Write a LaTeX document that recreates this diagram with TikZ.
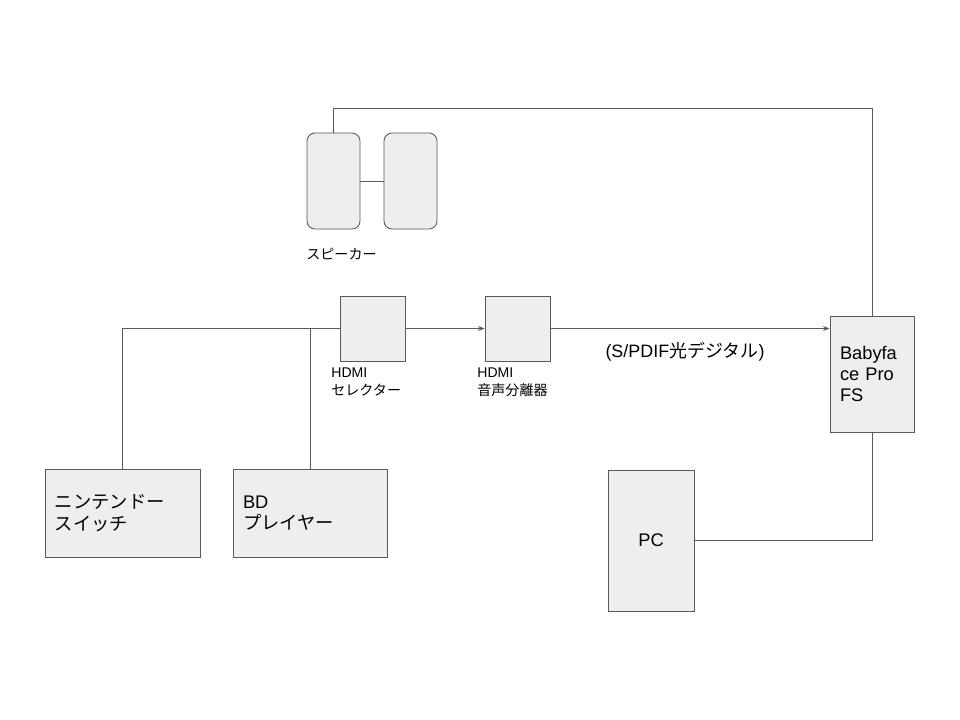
\documentclass[tikz,border=0pt]{standalone}
\usepackage{fontspec}
\setmainfont{Liberation Sans}
\newfontfamily\jp{Noto Sans CJK JP}
\usetikzlibrary{arrows.meta,positioning}
\definecolor{gris}{RGB}{89,89,89}
\definecolor{relleno}{RGB}{238,238,238}
\tikzset{
  caja/.style={draw=gris, fill=relleno, line width=0.5pt, inner sep=0pt, font=\fontsize{10.4}{12.2}\selectfont},
  altavoz/.style={caja, rounded corners=1.6mm, minimum width=10.6mm, minimum height=19.2mm},
  equipo/.style={caja, minimum width=13mm, minimum height=13mm},
  et/.style={font=\fontsize{8}{10.6}\selectfont, align=left, inner sep=0pt},
  linea/.style={draw=gris, line width=0.5pt},
  fl/.style={linea, -{Stealth[length=1.3mm, width=1mm]}},
}
\begin{document}
\begin{tikzpicture}[x=0.2mm, y=-0.2mm]
  \useasboundingbox (0,0) rectangle (960,720);
  % altavoces
  \node[altavoz] (spkL) at (333.5,181) {};
  \node[altavoz] (spkR) at (410.5,181) {};
  \node[et, anchor=west] (spklab) at (306,254) {\jp スピーカー};
  % HDMI
  \node[equipo] (sel) at (372.5,328.5) {};
  \node[equipo] (sep) at (517.5,328.5) {};
  \node[et, anchor=north west] (sellab) at (331,367) {HDMI\\{\jp セレクター}};
  \node[et, anchor=north west] (seplab) at (477,367) {HDMI\\{\jp 音声分離器}};
  % fuentes
  \node[caja, minimum width=31mm, minimum height=17.6mm, text width=27mm, align=left] (nin) at (122.5,513) {\jp ニンテンドー\\スイッチ};
  \node[caja, minimum width=30.8mm, minimum height=17.6mm, text width=26.8mm, align=left] (bd) at (310,513) {BD\\{\jp プレイヤー}};
  % interfaz y PC
  \node[caja, minimum width=16.8mm, minimum height=23.2mm, text width=12.8mm, align=left] (bf) at (872,374) {Babyfa\\ce Pro\\FS};
  \node[caja, minimum width=17.2mm, minimum height=28.2mm] (pc) at (651,540.5) {PC};
  \coordinate (arriba) at (333.5,108);
  \coordinate (bfin) at (bf.west |- sep.east);

  \draw[linea] (spkL) -- (spkR);
  \draw[linea] (spkL.north) -- (arriba) -| (bf.north);
  \draw[linea] (nin.north) |- (sel.west);
  \draw[linea] (bd.north) -- (bd.north |- sel.west);
  \draw[fl] (sel) -- (sep);
  \draw[fl] (sep.east) -- node[below=1.4mm, font=\fontsize{10.2}{12}\selectfont, xshift=-1mm] {(S/PDIF{\jp 光デジタル})} (bfin);
  \draw[linea] (bf.south) |- (pc.east);
\end{tikzpicture}
\end{document}
